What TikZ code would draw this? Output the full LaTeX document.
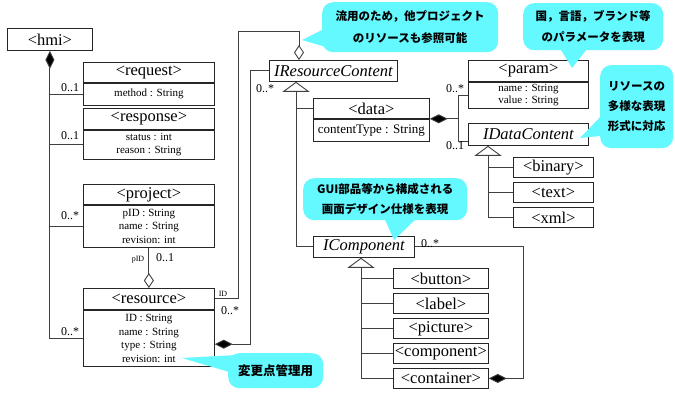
\documentclass[tikz,border=0pt]{standalone}
\usepackage{fontspec}
\setmainfont{Liberation Serif}
\newfontfamily\jp{Noto Sans CJK JP}
\usetikzlibrary{arrows.meta,calc}
\definecolor{calloutcyan}{RGB}{100,248,255}
\tikzset{
 cname/.style={draw=black!85, line width=0.8pt, fill=white, inner sep=0pt, font=\fontsize{16.5}{18}\selectfont, anchor=north west},
 iname/.style={cname, font=\fontsize{16.5}{18}\selectfont\itshape},
 attrs/.style={draw=black!85, line width=0.8pt, fill=white, inner sep=0pt, align=center, font=\fontsize{11}{13.5}\selectfont, anchor=north},
 conn/.style={draw=black!75, line width=0.9pt},
 mult/.style={font=\fontsize{12}{12}\selectfont, inner sep=0pt},
 tiny/.style={font=\fontsize{8}{8}\selectfont, inner sep=0pt},
 callout/.style={fill=calloutcyan, rounded corners=11pt, inner sep=0pt, align=center, anchor=north west, font=\jp\bfseries\fontsize{11.5}{21.5}\selectfont},
 comp/.style={conn, {Diamond[fill=black, length=18pt, width=9pt]}-},
 aggr/.style={conn, -{Diamond[open, fill=white, length=15pt, width=10pt]}},
 gen/.style={conn, -{Triangle[open, fill=white, length=10pt, width=27pt]}},
}
\begin{document}
\begin{tikzpicture}[x=1pt,y=-1pt]
\useasboundingbox[fill=white] (0,0) rectangle (675,392);

% ---- left classes
\node[cname, minimum width=85pt, minimum height=22pt] (hmi) at (7,28) {<hmi>};

\node[cname, minimum width=131pt, minimum height=20pt] (reqh) at (83,62) {<request>};
\node[attrs, minimum width=131pt, minimum height=22pt] (reqb) at (reqh.south) {method : String};

\node[cname, minimum width=131pt, minimum height=21pt] (resph) at (83,108) {<response>};
\node[attrs, minimum width=131pt, minimum height=29pt] (respb) at (resph.south) {status : int\\reason : String};

\node[cname, minimum width=131pt, minimum height=20pt] (projh) at (83,184) {<project>};
\node[attrs, minimum width=131pt, minimum height=42pt] (projb) at (projh.south) {pID : String\\name : String\\revision: int};

\node[cname, minimum width=131pt, minimum height=21pt] (rsh) at (83,288) {<resource>};
\node[attrs, minimum width=131pt, minimum height=56pt] (rsb) at (rsh.south) {ID : String\\name : String\\type : String\\revision: int};

% ---- resource content
\node[iname, minimum width=128pt, minimum height=21pt] (irc) at (269,60) {IResourceContent};

\node[cname, minimum width=116pt, minimum height=20pt] (datah) at (313,98) {<data>};
\node[attrs, minimum width=116pt, minimum height=22pt, font=\fontsize{13}{14}\selectfont] (datab) at (datah.south) {contentType : String};

\node[cname, minimum width=120pt, minimum height=21pt] (parh) at (468,60) {<param>};
\node[attrs, minimum width=120pt, minimum height=26pt, font=\fontsize{11}{12}\selectfont] (parb) at (parh.south) {name : String\\value : String};

\node[iname, minimum width=120pt, minimum height=22pt] (idc) at (468,123) {IDataContent};

\node[cname, minimum width=80pt, minimum height=20pt] (bin) at (513,157) {<binary>};
\node[cname, minimum width=80pt, minimum height=20pt] (txt) at (513,182) {<text>};
\node[cname, minimum width=80pt, minimum height=20pt] (xml) at (513,207) {<xml>};

% ---- components
\node[iname, minimum width=101pt, minimum height=21pt] (icomp) at (313,236) {IComponent};

\node[cname, minimum width=95pt, minimum height=20pt] (btn) at (393,268) {<button>};
\node[cname, minimum width=95pt, minimum height=20pt] (lbl) at (393,293) {<label>};
\node[cname, minimum width=95pt, minimum height=20pt] (pic) at (393,318) {<picture>};
\node[cname, minimum width=95pt, minimum height=20pt] (cmp) at (393,343) {<component>};
\node[cname, minimum width=95pt, minimum height=20pt] (cont) at (393,368) {<container>};

% ---- connectors: hmi
\draw[comp] (hmi.south) -- (hmi.south |- rsb.west) -- (rsb.west);
\draw[conn] (hmi.south |- reqb.west) -- (reqb.west);
\draw[conn] (hmi.south |- respb.west) -- (respb.west);
\draw[conn] (hmi.south |- projb.west) -- (projb.west);
\node[mult] (m1) at (70,88) {0..1};
\node[mult] (m2) at (70,136) {0..1};
\node[mult] (m3) at (70,216) {0..*};
\node[mult] (m4) at (70,332) {0..*};

% project - resource
\draw[aggr] (projb.south) -- (rsh.north);
\node[tiny] (lpid) at (138,260) {pID};
\node[mult] (m5) at (165,258) {0..1};

% resource - IResourceContent aggregation
\coordinate (ircTop) at ($(irc.north west)+(30,0)$);
\draw[aggr] (rsh.east) -| (238,31) -| (ircTop);
\node[tiny] (lid) at (223,294) {ID};
\node[mult] (m6) at (230,311) {0..*};

% resource - IResourceContent composition
\draw[comp] ($(rsb.east)+(0,6)$) -- ++(36,0) |- (irc.west);
\node[mult] (m7) at (265,89) {0..*};

% IResourceContent generalization
\coordinate (ircTri) at ($(irc.south west)+(27,0)$);
\draw[gen] (icomp.west) -| (ircTri);
\draw[conn] (ircTri |- datah.west) -- (datah.west);

% data composition
\coordinate (dj) at ($(parb.west)+(-10,0)$);
\draw[conn] (parb.west) -- (dj) |- ($(idc.west)+(0,7)$);
\draw[comp] (datah.south east) -- (datah.south east -| dj);
\node[mult] (m8) at (455,89) {0..*};
\node[mult] (m9) at (455,146) {0..1};

% IDataContent generalization
\coordinate (idcTri) at ($(idc.south west)+(20,0)$);
\draw[gen] (xml.west) -| (idcTri);
\draw[conn] (idcTri |- bin.west) -- (bin.west);
\draw[conn] (idcTri |- txt.west) -- (txt.west);

% IComponent generalization
\coordinate (icTri) at ($(icomp.south west)+(48,0)$);
\draw[gen] (cont.west) -| (icTri);
\draw[conn] (icTri |- btn.west) -- (btn.west);
\draw[conn] (icTri |- lbl.west) -- (lbl.west);
\draw[conn] (icTri |- pic.west) -- (pic.west);
\draw[conn] (icTri |- cmp.west) -- (cmp.west);

% container composition
\draw[comp] (cont.east) -- ++(35,0) |- (icomp.east);
\node[mult] (m10) at (430,244) {0..*};

% ---- callouts
\fill[calloutcyan] (326,28) -- (302,40) -- (336,50) -- cycle;
\node[callout, minimum width=176pt, minimum height=50pt] (c1) at (322,2) {流用のため，他プロジェクト\\のリソースも参照可能};

\fill[calloutcyan] (558,45) -- (572,68) -- (590,45) -- cycle;
\node[callout, minimum width=140pt, minimum height=47pt] (c2) at (523,3) {国，言語，ブランド等\\のパラメータを表現};

\fill[calloutcyan] (605,112) -- (580,138) -- (610,135) -- cycle;
\node[callout, minimum width=73pt, minimum height=83pt, font=\jp\bfseries\fontsize{11.5}{20}\selectfont] (c3) at (600,65) {リソースの\\多様な表現\\形式に対応};

\fill[calloutcyan] (383,215) -- (394,240) -- (420,215) -- cycle;
\node[callout, minimum width=164pt, minimum height=42pt, font=\jp\bfseries\fontsize{11.5}{19.5}\selectfont] (c4) at (303,178) {GUI部品等から構成される\\画面デザイン仕様を表現};

\fill[calloutcyan] (236,355) -- (182,358) -- (236,374) -- cycle;
\node[callout, minimum width=95pt, minimum height=35pt, font=\jp\bfseries\fontsize{12.5}{14}\selectfont] (c5) at (228,353) {変更点管理用};
\end{tikzpicture}
\end{document}
